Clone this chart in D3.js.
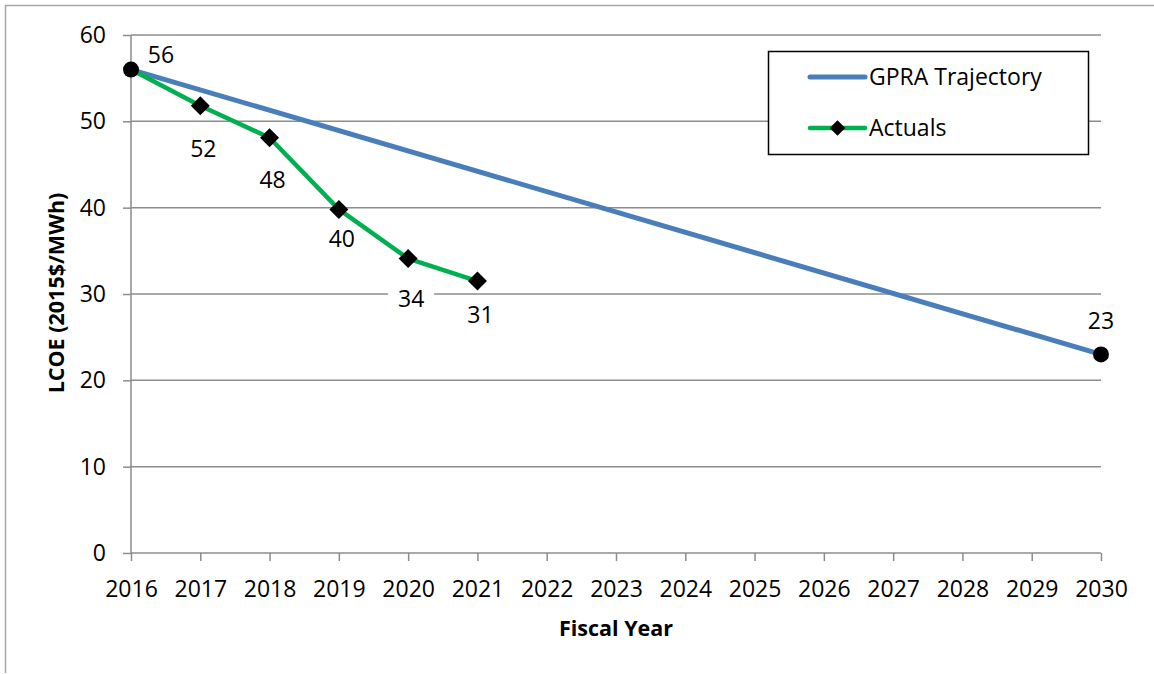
<!DOCTYPE html>
<html>
<head>
<meta charset="utf-8">
<script src="https://cdn.jsdelivr.net/npm/d3@7"></script>
<style>
  body { margin: 0; background: #fff; }
  svg text { font-family: "Open Sans", sans-serif; fill: #000; }
</style>
</head>
<body>
<div id="chart"></div>
<script>
// chart values
var years = [2016, 2017, 2018, 2019, 2020, 2021, 2022, 2023, 2024, 2025, 2026, 2027, 2028, 2029, 2030];
var gpraYears = [2016, 2030];
var gpraValues = [56, 23];
var actualYears = [2016, 2017, 2018, 2019, 2020, 2021];
var actualValues = [56, 51.8, 48.1, 39.8, 34.1, 31.5];
var actualLabels = ["", "52", "48", "40", "34", "31"];
var yTicks = [0, 10, 20, 30, 40, 50, 60];

var svgWidth = 1154;
var svgHeight = 674;

var margin = { top: 35, right: 53, bottom: 121, left: 131 };
var chartWidth = svgWidth - margin.left - margin.right;
var chartHeight = svgHeight - margin.top - margin.bottom;

var svg = d3.select("#chart")
  .append("svg")
  .attr("width", svgWidth)
  .attr("height", svgHeight);

// outer frame (top and left edges visible)
svg.append("path")
  .attr("d", "M5.5,673 V5.5 H1154")
  .attr("fill", "none")
  .attr("stroke", "#a6a6a6")
  .attr("stroke-width", 1.5);

var chartGroup = svg.append("g")
  .attr("transform", `translate(${margin.left}, ${margin.top})`);

var xScale = d3.scaleLinear()
  .domain([2016, 2030])
  .range([0, chartWidth]);

var yScale = d3.scaleLinear()
  .domain([0, 60])
  .range([chartHeight, 0]);

// gridlines
chartGroup.append("g")
  .selectAll("line")
  .data(yTicks.filter(d => d > 0))
  .enter()
  .append("line")
  .attr("x1", 0)
  .attr("x2", chartWidth)
  .attr("y1", d => yScale(d))
  .attr("y2", d => yScale(d))
  .attr("stroke", "#8c8c8c")
  .attr("stroke-width", 1.5);

var leftAxis = d3.axisLeft(yScale)
  .tickValues(yTicks)
  .tickSize(8)
  .tickPadding(17);

var bottomAxis = d3.axisBottom(xScale)
  .tickValues(years)
  .tickFormat(d3.format("d"))
  .tickSize(8)
  .tickPadding(20);

var yAxisG = chartGroup.append("g").call(leftAxis);
var xAxisG = chartGroup.append("g")
  .attr("transform", `translate(0, ${chartHeight})`)
  .call(bottomAxis);

[yAxisG, xAxisG].forEach(function(g) {
  g.select(".domain").attr("stroke", "#8c8c8c").attr("stroke-width", 1.5)
    .attr("d", g === yAxisG ? `M0,0V${chartHeight}` : `M0,0H${chartWidth}`);
  g.selectAll(".tick line").attr("stroke", "#8c8c8c").attr("stroke-width", 1.5);
  g.selectAll(".tick text")
    .attr("font-family", "Open Sans, sans-serif")
    .attr("font-size", 23)
    .attr("fill", "#000");
});

var line = d3.line()
  .x(d => xScale(d[0]))
  .y(d => yScale(d[1]));

var gpraData = gpraYears.map((y, i) => [y, gpraValues[i]]);
var actualData = actualYears.map((y, i) => [y, actualValues[i]]);

// GPRA line
chartGroup.append("path")
  .datum(gpraData)
  .attr("d", line)
  .attr("fill", "none")
  .attr("stroke", "#4a7ebb")
  .attr("stroke-width", 5);

// actuals line
chartGroup.append("path")
  .datum(actualData)
  .attr("d", line)
  .attr("fill", "none")
  .attr("stroke", "#00b050")
  .attr("stroke-width", 4.5)
  .attr("stroke-linejoin", "round");

// diamonds for actuals (skip the first, it sits under the circle)
chartGroup.selectAll(".diamond")
  .data(actualData.slice(1))
  .enter()
  .append("path")
  .attr("class", "diamond")
  .attr("d", d3.symbol().type(d3.symbolDiamond2).size(230))
  .attr("transform", d => `translate(${xScale(d[0])}, ${yScale(d[1])})`)
  .attr("fill", "#000");

// GPRA end points
chartGroup.selectAll(".endpt")
  .data(gpraData)
  .enter()
  .append("circle")
  .attr("class", "endpt")
  .attr("cx", d => xScale(d[0]))
  .attr("cy", d => yScale(d[1]))
  .attr("r", 8)
  .attr("fill", "#000");

// data labels
var labelDy = [0, 51, 50, 38, 48, 42];
actualData.forEach(function(d, i) {
  if (!actualLabels[i]) return;
  var x = xScale(d[0]) + 3;
  var y = yScale(d[1]) + labelDy[i];
  if (actualLabels[i] === "34") {
    chartGroup.append("rect")
      .attr("x", x - 23).attr("y", y - 22)
      .attr("width", 46).attr("height", 28)
      .attr("fill", "#fff");
  }
  chartGroup.append("text")
    .attr("x", x)
    .attr("y", y)
    .attr("text-anchor", "middle")
    .attr("font-size", 23)
    .text(actualLabels[i]);
});

chartGroup.append("text")
  .attr("x", xScale(gpraYears[0]) + 30)
  .attr("y", yScale(gpraValues[0]) - 7)
  .attr("text-anchor", "middle")
  .attr("font-size", 23)
  .text(String(gpraValues[0]));

chartGroup.append("text")
  .attr("x", xScale(gpraYears[1]))
  .attr("y", yScale(gpraValues[1]) - 25)
  .attr("text-anchor", "middle")
  .attr("font-size", 23)
  .text(String(gpraValues[1]));

// axis titles
svg.append("text")
  .attr("x", margin.left + chartWidth / 2)
  .attr("y", 636)
  .attr("text-anchor", "middle")
  .attr("font-size", 21.5)
  .attr("font-weight", "bold")
  .text("Fiscal Year");

svg.append("text")
  .attr("transform", "translate(64, 293) rotate(-90)")
  .attr("text-anchor", "middle")
  .attr("font-size", 21.5)
  .attr("font-weight", "bold")
  .text("LCOE (2015$/MWh)");

// legend
var legend = svg.append("g");
legend.append("rect")
  .attr("x", 768.5).attr("y", 51.5)
  .attr("width", 320).attr("height", 103)
  .attr("fill", "#fff")
  .attr("stroke", "#000")
  .attr("stroke-width", 1.5);

legend.append("line")
  .attr("x1", 810).attr("x2", 865).attr("y1", 77).attr("y2", 77)
  .attr("stroke", "#4a7ebb").attr("stroke-width", 5).attr("stroke-linecap", "round");
legend.append("text")
  .attr("x", 869).attr("y", 85)
  .attr("font-size", 23)
  .text("GPRA Trajectory");

legend.append("line")
  .attr("x1", 810).attr("x2", 865).attr("y1", 128).attr("y2", 128)
  .attr("stroke", "#00b050").attr("stroke-width", 4.5).attr("stroke-linecap", "round");
legend.append("path")
  .attr("d", d3.symbol().type(d3.symbolDiamond2).size(155))
  .attr("transform", "translate(837.5, 128)")
  .attr("fill", "#000");
legend.append("text")
  .attr("x", 869).attr("y", 136)
  .attr("font-size", 23)
  .text("Actuals");
</script>
</body>
</html>
